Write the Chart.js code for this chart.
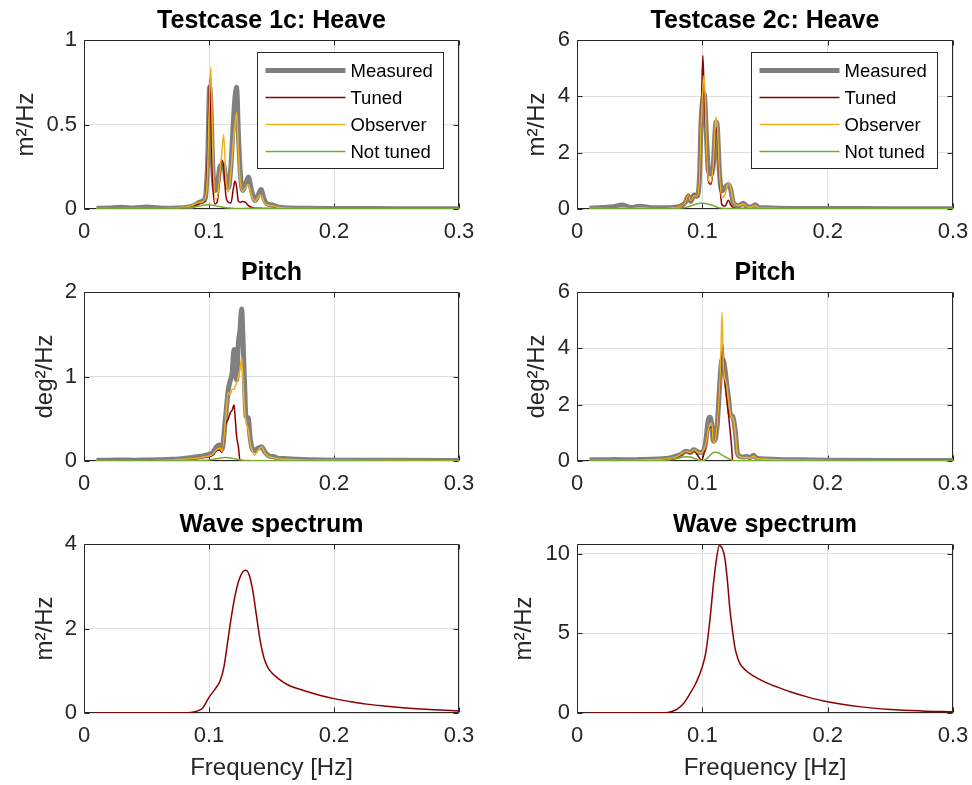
<!DOCTYPE html>
<html>
<head>
<meta charset="utf-8">
<title>Heave / Pitch spectra</title>
<script src="https://cdn.jsdelivr.net/npm/chart.js@4.4.1/dist/chart.umd.min.js"></script>
<style>
  body { margin: 0; background: #fff; width: 972px; height: 785px; position: relative; overflow: hidden; }
  canvas { position: absolute; }
</style>
</head>
<body>
<canvas id="heave1"  width="486" height="252" style="left:0;top:0"></canvas>
<canvas id="heave2"  width="486" height="252" style="left:486px;top:0"></canvas>
<canvas id="pitch1"  width="486" height="252" style="left:0;top:252px"></canvas>
<canvas id="pitch2"  width="486" height="252" style="left:486px;top:252px"></canvas>
<canvas id="wave1"   width="486" height="281" style="left:0;top:504px"></canvas>
<canvas id="wave2"   width="486" height="281" style="left:486px;top:504px"></canvas>

<script>
// ---- shared axis / series info ----
const seriesNames = ['Measured', 'Tuned', 'Observer', 'Not tuned'];
const seriesColors = ['#808080', '#8b0000', '#edb120', '#77ac30'];
const seriesWidths = [5, 1.5, 1.5, 1.5];

const xTicks = [0, 0.1, 0.2, 0.3];
const xTickLabels = ['0', '0.1', '0.2', '0.3'];

// ---- Testcase 1c: Heave ----
const heave1Freq = [0.01,0.02,0.03,0.04,0.05,0.06,0.07,0.08,0.086,0.09,0.094,0.097,0.099,0.1005,0.1015,0.103,0.1048,0.1065,0.1088,0.1102,0.1117,0.1135,0.1155,0.1175,0.1195,0.1208,0.1221,0.1235,0.125,0.1269,0.129,0.1315,0.134,0.1368,0.1392,0.1416,0.144,0.1465,0.15,0.155,0.16,0.18,0.2,0.25,0.3];
const heave1Measured = [0.004,0.006,0.010,0.006,0.012,0.006,0.005,0.008,0.015,0.030,0.045,0.065,0.30,0.72,0.62,0.25,0.11,0.13,0.25,0.26,0.26,0.17,0.125,0.25,0.52,0.66,0.72,0.45,0.22,0.11,0.14,0.19,0.11,0.05,0.08,0.115,0.06,0.03,0.025,0.012,0.008,0.004,0.003,0.002,0.001];
const heave1Tuned = [0.002,0.002,0.003,0.003,0.004,0.004,0.005,0.008,0.012,0.025,0.035,0.05,0.35,0.77,0.55,0.15,0.03,0.04,0.20,0.29,0.25,0.08,0.04,0.035,0.12,0.165,0.13,0.045,0.04,0.045,0.04,0.02,0.01,0.005,0.004,0.004,0.003,0.003,0.003,0.002,0.002,0.001,0.001,0.001,0.001];
const heave1Observer = [0.002,0.003,0.004,0.004,0.005,0.005,0.006,0.010,0.020,0.034,0.040,0.060,0.25,0.70,0.84,0.35,0.06,0.06,0.22,0.33,0.44,0.18,0.10,0.22,0.40,0.50,0.57,0.34,0.16,0.105,0.125,0.145,0.08,0.045,0.07,0.085,0.04,0.025,0.02,0.01,0.006,0.003,0.002,0.001,0.001];
const heave1NotTuned = [0.003,0.003,0.003,0.004,0.004,0.004,0.005,0.007,0.010,0.015,0.020,0.024,0.025,0.025,0.024,0.022,0.020,0.017,0.014,0.012,0.010,0.008,0.006,0.005,0.004,0.003,0.003,0.003,0.003,0.003,0.004,0.004,0.004,0.004,0.004,0.004,0.003,0.003,0.003,0.002,0.002,0.001,0.001,0.001,0.001];

// ---- Testcase 2c: Heave ----
const heave2Freq = [0.01,0.02,0.029,0.036,0.043,0.05,0.06,0.07,0.078,0.082,0.0862,0.0888,0.0907,0.0934,0.0955,0.0977,0.099,0.1004,0.1014,0.1035,0.1048,0.1067,0.1088,0.11,0.1109,0.112,0.1136,0.1155,0.1181,0.1208,0.1226,0.1248,0.1288,0.1327,0.136,0.139,0.1421,0.145,0.15,0.16,0.18,0.2,0.25,0.3];
const heave2Measured = [0.03,0.05,0.08,0.14,0.05,0.10,0.04,0.04,0.06,0.10,0.22,0.45,0.27,0.50,0.45,1.10,3.10,3.90,4.10,2.40,1.35,1.24,1.60,2.60,3.09,2.90,1.35,0.64,0.76,0.87,0.70,0.22,0.12,0.20,0.08,0.07,0.15,0.05,0.04,0.03,0.02,0.02,0.01,0.01];
const heave2Tuned = [0.02,0.02,0.03,0.04,0.03,0.03,0.03,0.03,0.05,0.08,0.22,0.52,0.27,0.52,0.45,1.10,3.15,5.45,4.20,1.95,1.00,0.88,1.47,2.40,2.90,2.60,1.20,0.16,0.10,0.31,0.15,0.05,0.02,0.02,0.02,0.01,0.01,0.01,0.01,0.01,0.01,0.01,0.01,0.01];
const heave2Observer = [0.02,0.03,0.03,0.05,0.03,0.04,0.03,0.03,0.05,0.08,0.22,0.50,0.28,0.50,0.45,1.10,3.00,4.30,4.75,2.00,1.05,0.95,1.60,2.70,3.27,2.90,1.35,0.39,0.52,0.91,0.76,0.25,0.12,0.18,0.07,0.06,0.12,0.04,0.03,0.02,0.01,0.01,0.01,0.01];
const heave2NotTuned = [0.01,0.01,0.01,0.01,0.01,0.01,0.01,0.01,0.02,0.03,0.05,0.08,0.11,0.15,0.18,0.20,0.20,0.20,0.20,0.19,0.17,0.15,0.12,0.10,0.08,0.06,0.04,0.03,0.02,0.02,0.02,0.02,0.02,0.02,0.02,0.01,0.01,0.01,0.01,0.01,0.01,0.01,0.01,0.01];

// ---- Testcase 1c: Pitch ----
const pitch1Freq = [0.01,0.02,0.03,0.04,0.05,0.06,0.07,0.08,0.085,0.09,0.095,0.1,0.103,0.106,0.1088,0.1105,0.1128,0.1155,0.117,0.1185,0.12,0.121,0.1221,0.1235,0.1248,0.1261,0.1272,0.1285,0.1296,0.1315,0.1328,0.1345,0.1365,0.139,0.142,0.145,0.148,0.152,0.156,0.16,0.17,0.18,0.2,0.25,0.3];
const pitch1Measured = [0.01,0.01,0.012,0.01,0.012,0.015,0.02,0.03,0.04,0.05,0.06,0.08,0.10,0.17,0.19,0.14,0.45,0.85,0.95,1.04,1.32,1.10,0.96,1.40,1.55,1.80,1.45,0.90,0.53,0.51,0.29,0.15,0.12,0.15,0.17,0.10,0.06,0.05,0.03,0.03,0.02,0.015,0.01,0.008,0.005];
const pitch1Tuned = [0.005,0.005,0.005,0.005,0.006,0.007,0.01,0.015,0.02,0.025,0.04,0.05,0.07,0.12,0.13,0.10,0.40,0.50,0.57,0.60,0.665,0.50,0.29,0.17,0.01,0.005,0.004,0.003,0.003,0.003,0.003,0.003,0.002,0.002,0.002,0.002,0.002,0.002,0.001,0.001,0.001,0.001,0.001,0.001,0.001];
const pitch1Observer = [0.005,0.005,0.006,0.006,0.007,0.008,0.012,0.02,0.025,0.03,0.045,0.06,0.08,0.13,0.15,0.11,0.42,0.81,0.78,0.85,0.85,0.88,0.93,1.00,1.08,1.22,0.95,0.60,0.45,0.37,0.22,0.13,0.07,0.12,0.17,0.09,0.05,0.04,0.02,0.02,0.015,0.01,0.008,0.005,0.003];
const pitch1NotTuned = [0.003,0.003,0.003,0.003,0.003,0.003,0.004,0.005,0.005,0.006,0.008,0.012,0.018,0.026,0.033,0.037,0.040,0.039,0.036,0.032,0.028,0.025,0.022,0.018,0.014,0.011,0.009,0.007,0.006,0.005,0.004,0.004,0.003,0.003,0.003,0.003,0.002,0.002,0.002,0.002,0.002,0.002,0.002,0.001,0.001];

// ---- Testcase 2c: Pitch ----
const pitch2Freq = [0.01,0.02,0.03,0.04,0.05,0.06,0.07,0.075,0.08,0.0835,0.087,0.0905,0.093,0.0955,0.0975,0.0995,0.1022,0.1048,0.1062,0.1075,0.1088,0.1105,0.112,0.1141,0.115,0.1157,0.1165,0.1173,0.1185,0.1195,0.121,0.1221,0.1232,0.1242,0.1252,0.1262,0.128,0.1301,0.133,0.1354,0.138,0.1407,0.1435,0.147,0.15,0.16,0.18,0.2,0.25,0.3];
const pitch2Measured = [0.04,0.04,0.05,0.04,0.05,0.06,0.09,0.12,0.18,0.25,0.35,0.30,0.40,0.35,0.30,0.30,0.55,1.46,1.55,1.30,0.70,0.80,1.35,2.90,3.40,3.60,3.60,3.48,3.10,2.70,2.20,1.70,1.60,1.60,1.40,1.10,0.28,0.16,0.14,0.16,0.12,0.20,0.10,0.08,0.07,0.05,0.04,0.03,0.02,0.02];
const pitch2Tuned = [0.01,0.01,0.01,0.01,0.01,0.02,0.05,0.08,0.15,0.22,0.32,0.28,0.38,0.25,0.12,0.02,0.45,1.10,1.20,1.20,0.65,0.80,1.35,2.80,3.50,3.80,4.14,3.20,2.60,2.18,1.60,1.10,0.60,0.02,0.01,0.01,0.01,0.01,0.01,0.01,0.01,0.01,0.01,0.01,0.01,0.01,0.01,0.01,0.01,0.01];
const pitch2Observer = [0.02,0.02,0.02,0.02,0.03,0.04,0.07,0.10,0.16,0.25,0.34,0.30,0.40,0.33,0.28,0.30,0.50,1.10,1.30,1.35,0.63,0.80,1.35,2.90,4.20,5.27,3.90,3.13,2.85,2.65,2.10,1.75,1.55,1.55,1.35,1.05,0.25,0.15,0.12,0.13,0.10,0.17,0.08,0.07,0.06,0.04,0.03,0.02,0.01,0.01];
const pitch2NotTuned = [0.01,0.01,0.01,0.01,0.01,0.01,0.03,0.05,0.09,0.13,0.15,0.14,0.10,0.06,0.03,0.01,0.05,0.14,0.20,0.26,0.30,0.31,0.30,0.26,0.23,0.21,0.19,0.17,0.14,0.11,0.08,0.06,0.04,0.02,0.01,0.01,0.01,0.01,0.01,0.01,0.01,0.01,0.01,0.01,0.01,0.01,0.01,0.01,0.01,0.01];

// ---- wave spectra ----
const wave1Freq = [0.01,0.03,0.05,0.07,0.08,0.085,0.09,0.095,0.1,0.105,0.109,0.112,0.115,0.118,0.121,0.124,0.127,0.1296,0.132,0.135,0.138,0.141,0.144,0.147,0.15,0.154,0.16,0.165,0.175,0.19,0.2,0.215,0.226,0.24,0.255,0.266,0.28,0.3];
const wave1Spectrum = [0,0,0,0,0.002,0.01,0.04,0.12,0.37,0.57,0.77,1.1,1.7,2.3,2.8,3.15,3.34,3.38,3.28,2.9,2.3,1.7,1.3,1.08,0.96,0.85,0.72,0.64,0.54,0.41,0.34,0.26,0.21,0.165,0.125,0.1,0.075,0.05];
const wave2Freq = [0.01,0.04,0.07,0.075,0.08,0.085,0.09,0.095,0.1,0.103,0.106,0.109,0.111,0.1135,0.116,0.118,0.12,0.122,0.124,0.126,0.128,0.13,0.135,0.14,0.15,0.16,0.17,0.185,0.2,0.225,0.25,0.275,0.3];
const wave2Spectrum = [0,0,0.01,0.08,0.25,0.6,1.2,1.9,2.9,3.9,5.8,8.2,9.5,10.5,10.3,9.7,8.3,6.5,5.2,4.1,3.5,3.1,2.65,2.36,1.94,1.62,1.33,0.98,0.70,0.40,0.22,0.13,0.08];

const FONT = "'Liberation Sans', Arial, Helvetica, sans-serif";
const INK = '#262626';
const GRID = '#dfdfdf';

Chart.defaults.font.family = FONT;

// MATLAB style box with inward ticks, drawn under the lines
const frameBox = {
    id: 'frameBox',
    beforeDatasetsDraw(chart) {
        const { ctx, chartArea: a, scales: { x, y } } = chart;
        const L = Math.round(a.left) + 0.5, R = Math.round(a.right) - 0.5;
        const T = Math.round(a.top) + 0.5, B = Math.round(a.bottom) - 0.5;
        ctx.save();
        ctx.strokeStyle = INK;
        ctx.lineWidth = 1;
        ctx.beginPath();
        ctx.rect(L, T, R - L, B - T);
        y.ticks.forEach(t => {
            const py = Math.round(y.getPixelForValue(t.value)) + 0.5;
            ctx.moveTo(L, py); ctx.lineTo(L + 5, py);
            ctx.moveTo(R, py); ctx.lineTo(R - 5, py);
        });
        x.ticks.forEach(t => {
            const px = Math.round(x.getPixelForValue(t.value)) + 0.5;
            ctx.moveTo(px, B); ctx.lineTo(px, B - 5);
            ctx.moveTo(px, T); ctx.lineTo(px, T + 5);
        });
        ctx.stroke();
        ctx.restore();
    }
};

// legend box inside the axes, top right
const boxLegend = {
    id: 'boxLegend',
    afterDatasetsDraw(chart, args, opts) {
        if (!opts.show) return;
        const { ctx, chartArea: a } = chart;
        const w = 186, h = 116;
        const left = Math.round(a.right - 16 - w) + 0.5;
        const top = Math.round(a.top + 12) + 0.5;
        ctx.save();
        ctx.fillStyle = '#fff';
        ctx.fillRect(left, top, w, h);
        ctx.strokeStyle = INK;
        ctx.lineWidth = 1;
        ctx.strokeRect(left, top, w, h);
        ctx.font = '18.5px ' + FONT;
        ctx.textBaseline = 'middle';
        chart.data.datasets.forEach((ds, i) => {
            const cy = top + 18 + i * 27;
            ctx.strokeStyle = ds.borderColor;
            ctx.lineWidth = ds.borderWidth;
            ctx.beginPath();
            ctx.moveTo(left + 8, cy);
            ctx.lineTo(left + 88, cy);
            ctx.stroke();
            ctx.fillStyle = '#000';
            ctx.fillText(ds.label, left + 93, cy + 1);
        });
        ctx.restore();
    }
};

function drawPanel(p) {
    const datasets = p.series.map((vals, i) => ({
        label: p.names[i],
        data: vals.map((v, k) => ({ x: p.freq[k], y: v })),
        borderColor: p.colors[i],
        borderWidth: p.widths[i],
        order: p.series.length - i,
        pointRadius: 0,
        cubicInterpolationMode: 'monotone',
        fill: false
    }));

    new Chart(document.getElementById(p.id), {
        type: 'line',
        data: { datasets },
        options: {
            responsive: false,
            animation: false,
            devicePixelRatio: 1,
            layout: { padding: { left: 0, right: p.padRight, top: 0, bottom: 0 } },
            plugins: {
                legend: { display: false },
                tooltip: { enabled: false },
                title: {
                    display: true, text: p.title, fullSize: false, color: '#000',
                    font: { size: 25, weight: 'bold' }, padding: { top: 6, bottom: 4 }
                },
                boxLegend: { show: p.legend }
            },
            scales: {
                x: {
                    type: 'linear', min: 0, max: 0.3,
                    afterBuildTicks: s => { s.ticks = xTicks.map(v => ({ value: v })); },
                    afterFit: s => { s.height = p.xAxisHeight; },
                    // invisible tick marks only push the labels down
                    grid: { color: GRID, drawTicks: true, tickLength: 7, tickColor: 'rgba(0,0,0,0)' },
                    border: { display: false },
                    ticks: {
                        padding: 3, autoSkip: false, maxRotation: 0, color: INK,
                        font: { size: 22 }, callback: (v, i) => xTickLabels[i]
                    },
                    title: {
                        display: !!p.xTitle, text: p.xTitle || '', color: INK,
                        font: { size: 24 }, padding: { top: 0, bottom: 2 }
                    }
                },
                y: {
                    type: 'linear', min: 0, max: p.yMax,
                    afterBuildTicks: s => { s.ticks = p.yTicks.map(v => ({ value: v })); },
                    afterFit: s => { s.width = p.yAxisWidth; },
                    grid: { color: GRID, drawTicks: false },
                    border: { display: false },
                    ticks: {
                        padding: 7, color: INK, font: { size: 22 },
                        callback: (v, i) => p.yTickLabels[i]
                    },
                    title: {
                        display: true, text: p.yLabel, color: INK,
                        font: { size: 24 }, padding: { top: p.yTitlePad, bottom: 0 }
                    }
                }
            }
        },
        plugins: [frameBox, boxLegend]
    });
}

const leftCol = { yAxisWidth: 84, padRight: 27 };
const rightCol = { yAxisWidth: 91, padRight: 19 };
const fourSeries = { names: seriesNames, colors: seriesColors, widths: seriesWidths, legend: false };
const waveSeries = { names: ['Wave spectrum'], colors: ['#8b0000'], widths: [1.5], legend: false };

drawPanel({ ...leftCol, ...fourSeries, legend: true, id: 'heave1', title: 'Testcase 1c: Heave',
    yLabel: 'm²/Hz', yMax: 1, yTicks: [0, 0.5, 1], yTickLabels: ['0', '0.5', '1'], yTitlePad: 12,
    xAxisHeight: 43, freq: heave1Freq,
    series: [heave1Measured, heave1Tuned, heave1Observer, heave1NotTuned] });

drawPanel({ ...rightCol, ...fourSeries, legend: true, id: 'heave2', title: 'Testcase 2c: Heave',
    yLabel: 'm²/Hz', yMax: 6, yTicks: [0, 2, 4, 6], yTickLabels: ['0', '2', '4', '6'], yTitlePad: 37,
    xAxisHeight: 43, freq: heave2Freq,
    series: [heave2Measured, heave2Tuned, heave2Observer, heave2NotTuned] });

drawPanel({ ...leftCol, ...fourSeries, id: 'pitch1', title: 'Pitch',
    yLabel: 'deg²/Hz', yMax: 2, yTicks: [0, 1, 2], yTickLabels: ['0', '1', '2'], yTitlePad: 31,
    xAxisHeight: 43, freq: pitch1Freq,
    series: [pitch1Measured, pitch1Tuned, pitch1Observer, pitch1NotTuned] });

drawPanel({ ...rightCol, ...fourSeries, id: 'pitch2', title: 'Pitch',
    yLabel: 'deg²/Hz', yMax: 6, yTicks: [0, 2, 4, 6], yTickLabels: ['0', '2', '4', '6'], yTitlePad: 37,
    xAxisHeight: 43, freq: pitch2Freq,
    series: [pitch2Measured, pitch2Tuned, pitch2Observer, pitch2NotTuned] });

drawPanel({ ...leftCol, ...waveSeries, id: 'wave1', title: 'Wave spectrum',
    yLabel: 'm²/Hz', yMax: 4, yTicks: [0, 2, 4], yTickLabels: ['0', '2', '4'], yTitlePad: 31,
    xAxisHeight: 72, xTitle: 'Frequency [Hz]', freq: wave1Freq, series: [wave1Spectrum] });

drawPanel({ ...rightCol, ...waveSeries, id: 'wave2', title: 'Wave spectrum',
    yLabel: 'm²/Hz', yMax: 10.6, yTicks: [0, 5, 10], yTickLabels: ['0', '5', '10'], yTitlePad: 24,
    xAxisHeight: 72, xTitle: 'Frequency [Hz]', freq: wave2Freq, series: [wave2Spectrum] });
</script>
</body>
</html>
